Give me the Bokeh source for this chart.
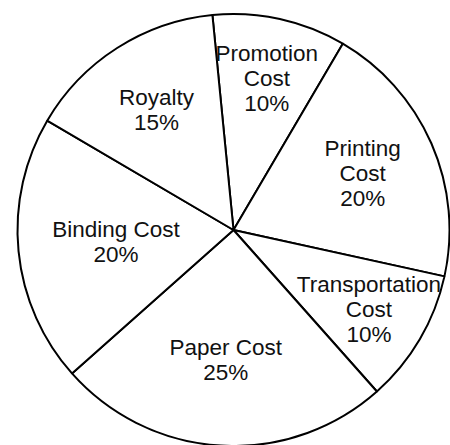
import math
from bokeh.plotting import figure
from bokeh.models import Range1d, ColumnDataSource
from bokeh.core.properties import value
from bokeh.embed import file_html
from bokeh.resources import INLINE

# ---- data ----
categories = ["Promotion Cost", "Printing Cost", "Transportation Cost",
              "Paper Cost", "Binding Cost", "Royalty"]
shares = [10, 20, 10, 25, 20, 15]
display_labels = ["Promotion\nCost", "Printing\nCost", "Transportation\nCost",
                  "Paper Cost", "Binding Cost", "Royalty"]

# ---- layout ----
start_deg = 95.6          # first slice begins here, going clockwise
cx, cy, R = 233, 215.5, 216
label_r = [155, 141, 157, 130, 118, 143]

starts, ends, lx, ly, texts = [], [], [], [], []
a = start_deg
for s, lab, r in zip(shares, display_labels, label_r):
    a_end = a - s * 3.6
    starts.append(math.radians(a_end))
    ends.append(math.radians(a))
    mid = math.radians((a + a_end) / 2)
    lx.append(cx + r * math.cos(mid))
    ly.append(cy + r * math.sin(mid))
    texts.append(f"{lab}\n{s}%")
    a = a_end

src = ColumnDataSource(dict(start=starts, end=ends, cat=categories))
lsrc = ColumnDataSource(dict(x=lx, y=ly, t=texts))

p = figure(width=450, height=445, output_backend="svg", toolbar_location=None,
           x_range=Range1d(0, 450), y_range=Range1d(0, 445),
           min_border=0, outline_line_color=None, background_fill_color="white")
p.axis.visible = False
p.xgrid.visible = False
p.ygrid.visible = False

p.wedge(x=cx, y=cy, radius=R, start_angle="start", end_angle="end",
        fill_color="white", line_color="black", line_width=2, source=src)

p.text(x="x", y="y", text="t", source=lsrc, text_align="center",
       text_baseline="middle", text_font=value("Liberation Sans"),
       text_font_size="22.5px", text_line_height=1.0, text_color="#111111")

open("out.html", "w").write(file_html(p, INLINE))
